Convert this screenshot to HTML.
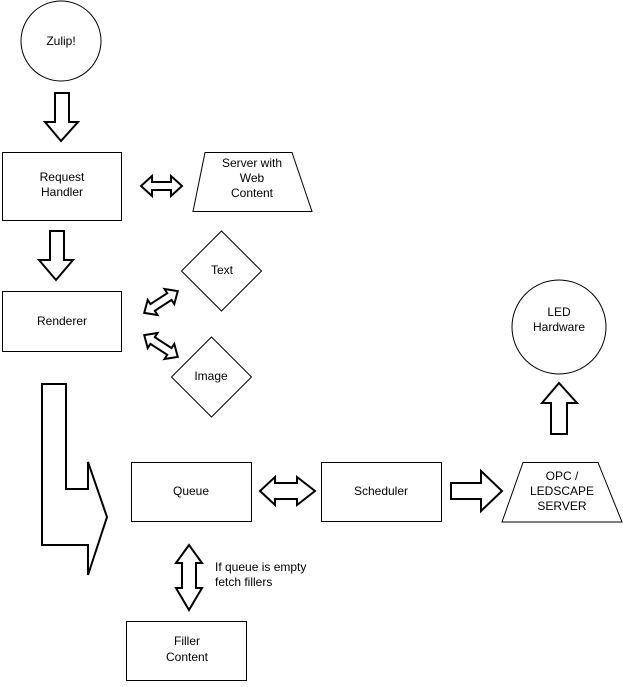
<!DOCTYPE html>
<html><head><meta charset="utf-8"><style>
html,body{margin:0;padding:0;background:#fff;}
svg{display:block;}
text{font-family:"Liberation Sans",sans-serif;font-size:12px;fill:#000;}
</style></head><body>
<svg width="623" height="687" viewBox="0 0 623 687" xmlns="http://www.w3.org/2000/svg">
<g fill="#fff" stroke="#000" stroke-width="1">
<circle cx="61" cy="41" r="40"/>
<circle cx="559" cy="327" r="47"/>
<rect x="2.5" y="152.5" width="119" height="68"/>
<rect x="2.5" y="291.5" width="119" height="60"/>
<rect x="131.5" y="462.5" width="120" height="59"/>
<rect x="321.5" y="462.5" width="120" height="59"/>
<rect x="126.5" y="621.5" width="120" height="59"/>
<polygon points="205,152.5 292,152.5 312,211.5 193,211.5"/>
<polygon points="523,462.5 598,462.5 622,522 502,522"/>
<polygon points="221.5,231 261.5,271 221.5,311 181.5,271"/>
<polygon points="211.5,337 251.5,377 211.5,417 171.5,377"/>
</g>
<g fill="#fff" stroke="#000" stroke-width="2" stroke-linejoin="miter">
<!-- zulip down -->
<polygon points="55,93 69,93 69,122 78,122 61,141 45,122 55,122"/>
<!-- RH down -->
<polygon points="50,231 64,231 64,260 73,260 56,280 39,260 50,260"/>
<!-- double horiz RH-server -->
<polygon points="141,186 152,176 152,182 171,182 171,176 182,186 171,196 171,190 152,190 152,196"/>
<!-- diagonal to Text -->
<g transform="translate(161,302) rotate(-33)">
<polygon points="-20,0 -10,-9 -10,-4 10,-4 10,-9 20,0 10,9 10,4 -10,4 -10,9"/>
</g>
<g transform="translate(161,346) rotate(33)">
<polygon points="-20,0 -10,-9 -10,-4 10,-4 10,-9 20,0 10,9 10,4 -10,4 -10,9"/>
</g>
<!-- big L arrow -->
<polygon points="42,384 66,384 66,489 88,489 88,462 107,517 88,575 88,545 42,545"/>
<!-- queue-scheduler -->
<polygon points="260,491 275,477 275,483 297,483 297,477 315,491 297,505 297,499 275,499 275,505"/>
<!-- scheduler->opc -->
<polygon points="451,483 481,483 481,471 502,491 481,511 481,499 451,499"/>
<!-- up arrow -->
<polygon points="559,383 577,403 567,403 567,434 551,434 551,403 542,403"/>
<!-- vertical double -->
<polygon points="189,580 201,599 189,599 189,631 201,631 189,645 177,631 189,631" style="display:none"/>
<polygon points="189,580 202,598 196,598 196,623 202,623 189,645 176,623 182,623 182,598 176,598" transform="translate(0,-35)"/>
</g>
<text x="61" y="45" text-anchor="middle">Zulip!</text>
<text x="62" y="181" text-anchor="middle">Request</text>
<text x="62" y="196" text-anchor="middle">Handler</text>
<text x="252" y="167" text-anchor="middle">Server with</text>
<text x="252" y="182" text-anchor="middle">Web</text>
<text x="252" y="197" text-anchor="middle">Content</text>
<text x="222" y="274" text-anchor="middle">Text</text>
<text x="62" y="325" text-anchor="middle">Renderer</text>
<text x="211" y="380" text-anchor="middle">Image</text>
<text x="559" y="316" text-anchor="middle">LED</text>
<text x="559" y="331" text-anchor="middle">Hardware</text>
<text x="191" y="495" text-anchor="middle">Queue</text>
<text x="381" y="495" text-anchor="middle">Scheduler</text>
<text x="562" y="480" text-anchor="middle">OPC /</text>
<text x="562" y="495" text-anchor="middle">LEDSCAPE</text>
<text x="562" y="510" text-anchor="middle">SERVER</text>
<text x="215" y="571">If queue is empty</text>
<text x="215" y="586">fetch fillers</text>
<text x="187" y="645" text-anchor="middle">Filler</text>
<text x="187" y="661" text-anchor="middle">Content</text>
</svg>
</body></html>
